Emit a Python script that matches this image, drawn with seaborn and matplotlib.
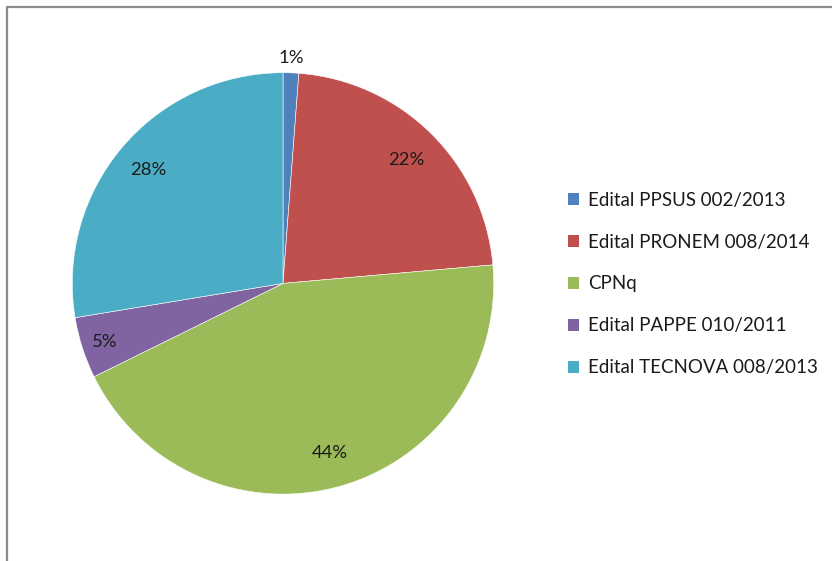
import matplotlib
matplotlib.use("Agg")
import matplotlib.pyplot as plt
from matplotlib.patches import Patch
from matplotlib.lines import Line2D
import seaborn as sns
import numpy as np

categories = ["Edital PPSUS 002/2013", "Edital PRONEM 008/2014", "CPNq",
              "Edital PAPPE 010/2011", "Edital TECNOVA 008/2013"]
values = [1.2, 22.4, 44.1, 4.7, 27.6]
colors = ["#4F81BD", "#C0504D", "#9BBB59", "#8064A2", "#4BACC6"]
label_dist = [1.08, 0.83, 0.83, 0.89, 0.84]

sns.set_theme(style="white")
plt.rcParams["font.family"] = ["Lato", "DejaVu Sans"]

W, H = 832, 561
fig = plt.figure(figsize=(W / 100, H / 100), dpi=100)
fig.patch.set_facecolor("white")

cx, cy, r = 283, 283.4, 210.7
ax = fig.add_axes([(cx - r) / W, (H - cy - r) / H, 2 * r / W, 2 * r / H])
wedges, _ = ax.pie(values, colors=colors, startangle=90, counterclock=False,
                   radius=1.0, wedgeprops=dict(edgecolor="white", linewidth=0.4))
ax.set_xlim(-1, 1)
ax.set_ylim(-1, 1)
ax.set_aspect("auto")
ax.axis("off")

for w, v, d in zip(wedges, values, label_dist):
    ang = np.deg2rad((w.theta1 + w.theta2) / 2)
    ax.text(d * np.cos(ang), d * np.sin(ang), f"{round(v):d}%",
            ha="center", va="center_baseline", fontsize=13.3, color="#1a1a1a")

handles = [Patch(facecolor=c, edgecolor="none") for c in colors]
leg = fig.legend(handles, categories, loc="center left",
                 bbox_to_anchor=(560 / W, 1 - 284 / H), frameon=False,
                 fontsize=13.5, handlelength=0.62, handleheight=0.62,
                 handletextpad=0.5, labelspacing=1.33, borderaxespad=0)
for t in leg.get_texts():
    t.set_color("#1a1a1a")

# outer frame (left and top edges)
fig.add_artist(Line2D([6.5 / W, 6.5 / W], [0, 1 - 6.5 / H], color="#8c8c8c",
                      linewidth=1.6, transform=fig.transFigure))
fig.add_artist(Line2D([6.5 / W, 1], [1 - 6.5 / H, 1 - 6.5 / H], color="#8c8c8c",
                      linewidth=1.6, transform=fig.transFigure))

fig.savefig("out.png", dpi=100)
